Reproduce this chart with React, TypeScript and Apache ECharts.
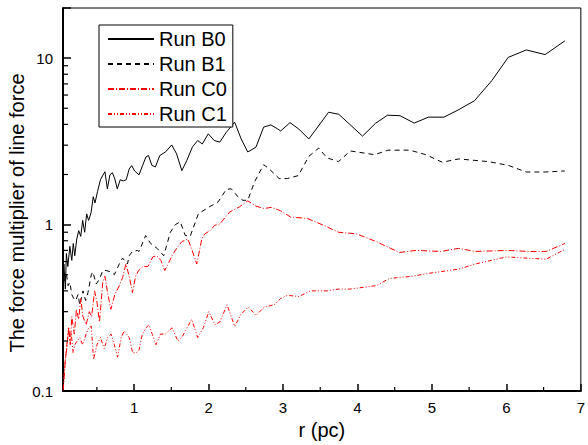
import React, { useEffect, useRef } from "react";
import * as echarts from "echarts";

const runB0: [number, number][] = [
  [0.044, 0.44], [0.057, 0.58], [0.077, 0.41], [0.09, 0.67], [0.11, 0.56], [0.137, 0.74], [0.163, 0.61],
  [0.183, 0.77], [0.203, 0.65], [0.23, 0.82], [0.256, 0.92], [0.283, 0.85], [0.309, 1.06], [0.336, 0.9],
  [0.363, 1.16], [0.389, 1.06], [0.422, 1.18], [0.451, 1.47], [0.475, 1.35], [0.509, 1.58], [0.548, 1.86],
  [0.575, 1.96], [0.608, 2.08], [0.641, 1.64], [0.675, 1.99], [0.708, 2.05], [0.741, 1.88], [0.774, 1.64],
  [0.814, 1.86], [0.854, 1.83], [0.894, 1.86], [0.934, 2.16], [0.967, 2.26], [1.007, 2.1], [1.066, 1.99],
  [1.113, 2.26], [1.159, 2.55], [1.193, 2.6], [1.239, 2.27], [1.286, 2.22], [1.345, 2.6], [1.425, 2.74],
  [1.505, 3.01], [1.571, 2.66], [1.641, 2.11], [1.708, 2.43], [1.784, 2.93], [1.854, 3.2], [1.916, 3.05],
  [1.996, 3.51], [2.076, 3.2], [2.151, 3.13], [2.239, 3.59], [2.351, 4.12], [2.438, 3.27], [2.527, 2.73],
  [2.637, 2.92], [2.74, 3.85], [2.837, 3.97], [2.926, 3.76], [2.969, 3.65], [3.094, 4.1], [3.214, 3.74],
  [3.347, 3.27], [3.612, 4.73], [3.749, 4.6], [4.068, 3.4], [4.24, 4.05], [4.404, 4.54], [4.572, 4.51],
  [4.762, 4.07], [4.953, 4.42], [5.161, 4.42], [5.352, 4.88], [5.572, 5.55], [5.803, 7.31], [6.024, 10.1],
  [6.268, 11.2], [6.521, 10.5], [6.786, 12.7],
];

const runB1: [number, number][] = [
  [0.064, 0.46], [0.09, 0.51], [0.114, 0.43], [0.137, 0.45], [0.163, 0.38], [0.19, 0.36], [0.216, 0.35],
  [0.247, 0.38], [0.27, 0.33], [0.292, 0.36], [0.313, 0.4], [0.349, 0.35], [0.38, 0.39], [0.425, 0.5],
  [0.446, 0.52], [0.491, 0.44], [0.535, 0.47], [0.579, 0.53], [0.624, 0.53], [0.691, 0.52], [0.734, 0.5],
  [0.801, 0.58], [0.845, 0.63], [0.911, 0.58], [0.934, 0.65], [0.977, 0.69], [1.044, 0.7], [1.066, 0.69],
  [1.155, 0.86], [1.222, 0.77], [1.309, 0.72], [1.398, 0.65], [1.487, 0.9], [1.554, 1.0], [1.62, 1.04],
  [1.687, 0.86], [1.753, 0.85], [1.863, 1.16], [1.973, 1.25], [2.129, 1.37], [2.239, 1.63], [2.305, 1.64],
  [2.394, 1.47], [2.461, 1.4], [2.527, 1.4], [2.616, 1.8], [2.74, 2.29], [2.815, 2.16], [2.948, 1.89],
  [3.058, 1.89], [3.205, 1.97], [3.347, 2.57], [3.479, 2.88], [3.59, 2.52], [3.745, 2.39], [3.904, 2.77],
  [4.231, 2.63], [4.409, 2.8], [4.705, 2.8], [4.918, 2.63], [5.139, 2.37], [5.36, 2.48], [5.758, 2.39],
  [6.024, 2.27], [6.268, 2.07], [6.521, 2.07], [6.786, 2.1],
];

const runC0: [number, number][] = [
  [0.048, 0.101], [0.07, 0.14], [0.097, 0.19], [0.124, 0.24], [0.143, 0.19], [0.163, 0.28], [0.197, 0.22],
  [0.226, 0.31], [0.256, 0.27], [0.283, 0.36], [0.313, 0.28], [0.356, 0.25], [0.398, 0.3], [0.429, 0.28],
  [0.469, 0.4], [0.502, 0.34], [0.535, 0.26], [0.579, 0.45], [0.608, 0.49], [0.648, 0.38], [0.688, 0.31],
  [0.741, 0.38], [0.801, 0.43], [0.845, 0.48], [0.89, 0.58], [0.934, 0.49], [0.977, 0.39], [1.02, 0.49],
  [1.06, 0.53], [1.12, 0.56], [1.186, 0.56], [1.252, 0.64], [1.305, 0.65], [1.359, 0.61], [1.412, 0.53],
  [1.465, 0.59], [1.509, 0.65], [1.571, 0.72], [1.641, 0.79], [1.721, 0.82], [1.77, 0.72], [1.841, 0.58],
  [1.91, 0.82], [1.95, 0.88], [2.019, 0.92], [2.082, 0.99], [2.151, 1.01], [2.284, 1.19], [2.417, 1.28],
  [2.527, 1.39], [2.637, 1.29], [2.749, 1.25], [2.846, 1.27], [2.969, 1.21], [3.102, 1.11], [3.324, 1.09],
  [3.546, 0.99], [3.745, 0.9], [3.988, 0.88], [4.254, 0.79], [4.563, 0.68], [4.785, 0.7], [5.117, 0.69],
  [5.36, 0.72], [5.582, 0.69], [6.024, 0.7], [6.29, 0.69], [6.534, 0.69], [6.786, 0.77],
];

const runC1: [number, number][] = [
  [0.048, 0.104], [0.077, 0.158], [0.097, 0.18], [0.117, 0.24], [0.137, 0.2], [0.157, 0.22], [0.181, 0.17],
  [0.203, 0.19], [0.236, 0.2], [0.27, 0.21], [0.309, 0.19], [0.356, 0.22], [0.389, 0.24], [0.425, 0.245],
  [0.455, 0.155], [0.502, 0.19], [0.548, 0.21], [0.598, 0.18], [0.645, 0.21], [0.691, 0.22], [0.734, 0.19],
  [0.778, 0.16], [0.827, 0.21], [0.867, 0.23], [0.934, 0.21], [0.98, 0.17], [1.027, 0.17], [1.066, 0.176],
  [1.11, 0.22], [1.159, 0.24], [1.199, 0.25], [1.243, 0.22], [1.292, 0.19], [1.355, 0.22], [1.421, 0.22],
  [1.509, 0.24], [1.588, 0.2], [1.641, 0.21], [1.774, 0.27], [1.854, 0.21], [1.93, 0.24], [2.003, 0.3],
  [2.085, 0.25], [2.151, 0.26], [2.248, 0.33], [2.351, 0.245], [2.438, 0.29], [2.534, 0.32], [2.637, 0.285],
  [2.749, 0.32], [2.882, 0.33], [2.969, 0.36], [3.058, 0.376], [3.214, 0.37], [3.368, 0.4], [3.59, 0.4],
  [3.745, 0.41], [3.899, 0.41], [4.077, 0.42], [4.254, 0.43], [4.43, 0.475], [4.741, 0.49], [4.961, 0.51],
  [5.36, 0.54], [5.582, 0.58], [6.003, 0.64], [6.246, 0.63], [6.534, 0.62], [6.786, 0.71],
];

const seriesNames = ["Run B0", "Run B1", "Run C0", "Run C1"];
const xTickLabels = [1, 2, 3, 4, 5, 6, 7];
const xMinorTicks = [0.5, 1.5, 2.5, 3.5, 4.5, 5.5, 6.5];
const yTickLabels = [0.1, 1, 10];
const yMinorTicks = [0.2, 0.3, 0.4, 0.5, 0.6, 0.7, 0.8, 0.9, 2, 3, 4, 5, 6, 7, 8, 9];

const X_MIN = 0.045;
const X_MAX = 7;
const Y_MIN = 0.1;
const Y_MAX = 20;
const FONT = '"Liberation Sans", Arial, Helvetica, sans-serif';

export default function App() {
  const ref = useRef<HTMLDivElement>(null);

  useEffect(() => {
    const chart = echarts.init(ref.current!, null, { renderer: "svg" });

    const lineSeries = (name: string, data: [number, number][], color: string, type: any) => ({
      name,
      type: "line",
      data,
      symbol: "none",
      showSymbol: false,
      clip: true,
      lineStyle: { color, width: 1, type },
      itemStyle: { color, opacity: 0 },
      z: 3,
    });

    const tickSeries = (name: string, data: number[][], dx: number, dy: number) => ({
      name,
      type: "custom",
      silent: true,
      coordinateSystem: "cartesian2d",
      data,
      encode: { x: 0, y: 1 },
      clip: false,
      z: 5,
      renderItem: (_params: any, api: any) => {
        const p = api.coord([api.value(0), api.value(1)]);
        return {
          type: "line",
          shape: { x1: p[0], y1: p[1], x2: p[0] + dx, y2: p[1] + dy },
          style: { stroke: "#000", lineWidth: 1.2 },
        };
      },
    });

    chart.setOption({
      animation: false,
      backgroundColor: "#fff",
      textStyle: { fontFamily: FONT },
      grid: {
        left: 63,
        right: 1,
        top: 8,
        bottom: 52,
        show: true,
        borderColor: "#000",
        borderWidth: 1,
        backgroundColor: "transparent",
      },
      legend: {
        orient: "vertical",
        left: 99,
        top: 25,
        data: seriesNames,
        itemWidth: 46,
        itemHeight: 20,
        itemGap: 5,
        padding: [4, 6, 3, 8],
        borderColor: "#000",
        borderWidth: 1,
        backgroundColor: "#fff",
        selectedMode: false,
        itemStyle: { opacity: 0 },
        textStyle: { fontSize: 20, color: "#000", fontFamily: FONT },
      },
      xAxis: {
        type: "value",
        min: X_MIN,
        max: X_MAX,
        axisLine: { show: true, onZero: false, lineStyle: { color: "#000", width: 2 } },
        axisTick: {
          show: true,
          inside: true,
          length: 7,
          customValues: xTickLabels,
          lineStyle: { color: "#000", width: 1.5 },
        },
        axisLabel: {
          customValues: xTickLabels,
          color: "#000",
          fontSize: 15,
          margin: 9,
          fontFamily: FONT,
        },
        splitLine: { show: false },
        name: "r (pc)",
        nameLocation: "middle",
        nameGap: 24,
        nameTextStyle: { fontSize: 20, color: "#000", fontFamily: FONT },
      },
      yAxis: {
        type: "log",
        logBase: 10,
        min: Y_MIN,
        max: Y_MAX,
        axisLine: { show: true, onZero: false, lineStyle: { color: "#000", width: 2 } },
        axisTick: { show: true, inside: true, length: 8, lineStyle: { color: "#000", width: 1.5 } },
        axisLabel: {
          color: "#000",
          fontSize: 15,
          margin: 10,
          fontFamily: FONT,
          formatter: (v: number) => {
            const t = yTickLabels.find((k) => Math.abs(k - v) / k < 1e-6);
            return t === undefined ? "" : String(t);
          },
        },
        splitLine: { show: false },
        minorTick: { show: false },
      },
      series: [
        lineSeries(seriesNames[0], runB0, "#000000", "solid"),
        lineSeries(seriesNames[1], runB1, "#000000", [5, 4]),
        lineSeries(seriesNames[2], runC0, "#ff0000", [6, 2, 1, 2]),
        lineSeries(seriesNames[3], runC1, "#ff0000", [4, 2, 1, 2, 1, 2]),
        tickSeries("yMinor", yMinorTicks.map((v) => [X_MIN, v]), 5, 0),
        tickSeries("xMinor", xMinorTicks.map((v) => [v, Y_MIN]), 0, -4),
      ],
      graphic: [
        {
          type: "text",
          x: 17,
          y: 213,
          rotation: Math.PI / 2,
          style: {
            text: "The force multiplier of line force",
            font: `20px ${FONT}`,
            fill: "#000",
            align: "center",
            verticalAlign: "middle",
          },
        },
      ],
    });

    return () => chart.dispose();
  }, []);

  return (
    <div
      ref={ref}
      style={{ position: "fixed", left: 0, top: 0, width: 588, height: 445, background: "#fff" }}
    />
  );
}
